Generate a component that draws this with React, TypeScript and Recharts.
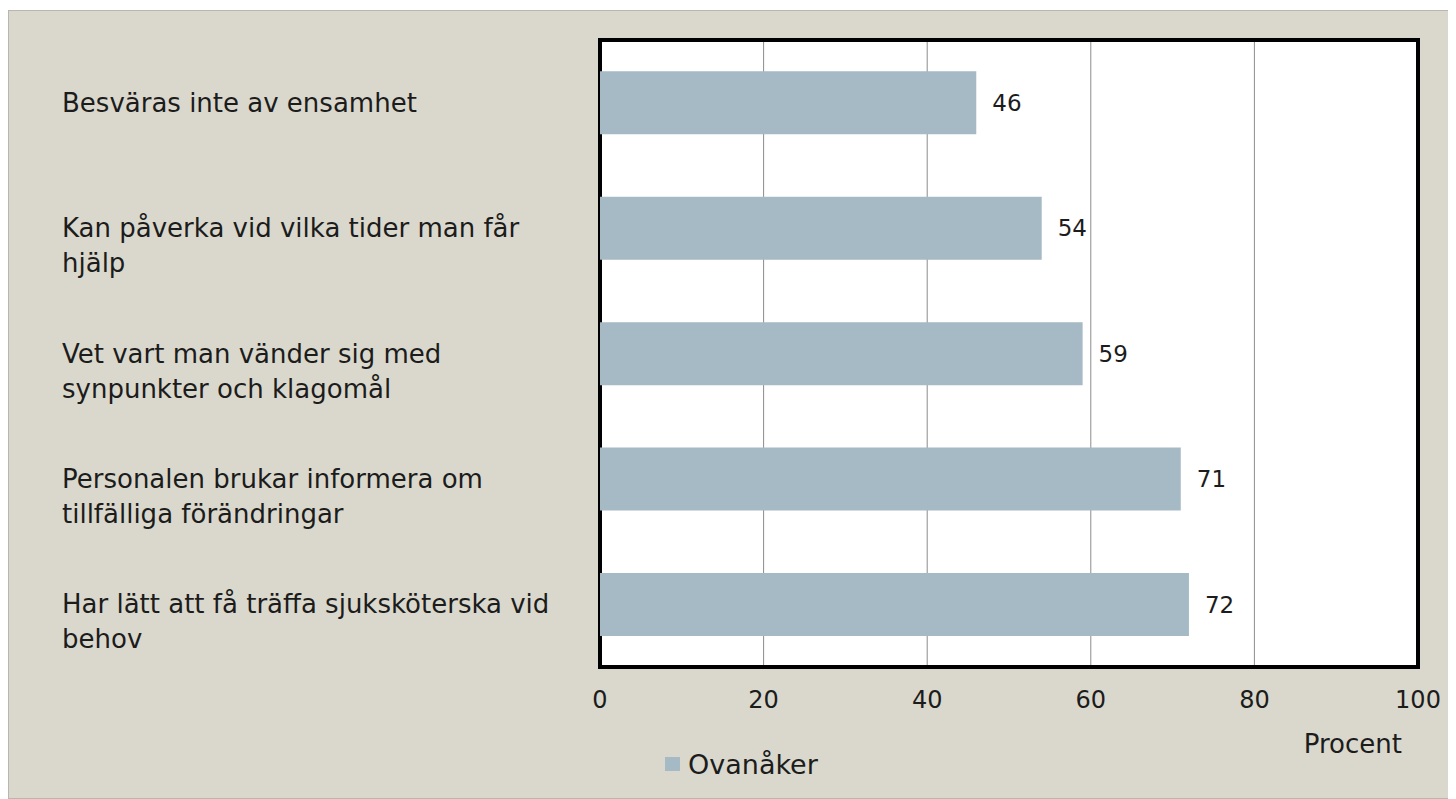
import React from 'react'
import {
  BarChart,
  Bar,
  XAxis,
  YAxis,
  CartesianGrid,
  ReferenceArea,
  LabelList,
  Legend,
} from 'recharts'

const categories = [
  'Besväras inte av ensamhet',
  'Kan påverka vid vilka tider man får hjälp',
  'Vet vart man vänder sig med synpunkter och klagomål',
  'Personalen brukar informera om tillfälliga förändringar',
  'Har lätt att få träffa sjuksköterska vid behov',
]

// how each category label wraps in the picture
const categoryLines = [
  ['Besväras inte av ensamhet'],
  ['Kan påverka vid vilka tider man får', 'hjälp'],
  ['Vet vart man vänder sig med', 'synpunkter och klagomål'],
  ['Personalen brukar informera om', 'tillfälliga förändringar'],
  ['Har lätt att få träffa sjuksköterska vid', 'behov'],
]

const ovanaker = [46, 54, 59, 71, 72]

const xTicks = [0, 20, 40, 60, 80, 100]

const seriesName = 'Ovanåker'
const axisTitle = 'Procent'

const FONT = '"DejaVu Sans", sans-serif'
const TEXT = '#1c1c1c'
const BAR = '#a6bac5'

const data = categories.map((name, i) => ({ name, value: ovanaker[i] }))

function CategoryTick(props: any) {
  const { y, payload } = props
  const idx = categories.indexOf(payload.value)
  const lines = categoryLines[idx] || [payload.value]
  return (
    <text x={53} y={y} fill={TEXT} fontSize={26} fontFamily={FONT} textAnchor="start">
      {lines.map((line, i) => (
        <tspan key={i} x={53} dy={i === 0 ? '0.35em' : 35}>
          {line}
        </tspan>
      ))}
    </text>
  )
}

function LegendContent() {
  return (
    <div
      style={{
        height: 30,
        display: 'flex',
        alignItems: 'center',
        paddingLeft: 656,
        fontFamily: FONT,
        fontSize: 27,
        color: TEXT,
      }}
    >
      <span style={{ width: 15, height: 14, background: BAR, marginRight: 8, display: 'inline-block' }} />
      {seriesName}
    </div>
  )
}

export default function App() {
  return (
    <div
      style={{
        marginTop: 2,
        width: 1448,
        height: 789,
        boxSizing: 'border-box',
        border: '1px solid #b8b6ad',
        background: '#dad8cc',
      }}
    >
      <BarChart
        width={1446}
        height={787}
        data={data}
        layout="vertical"
        barCategoryGap="25%"
        margin={{ top: 29, right: 37, left: 0, bottom: 19 }}
      >
        <CartesianGrid horizontal={false} stroke="#8c8c8c" fill="#ffffff" />
        <XAxis
          type="number"
          domain={[0, 100]}
          ticks={xTicks}
          axisLine={false}
          tickLine={false}
          tickSize={0}
          tickMargin={24}
          height={82}
          tick={{ fill: TEXT, fontSize: 24, fontFamily: FONT }}
          label={{
            value: axisTitle,
            position: 'insideBottomRight',
            offset: 0,
            dx: -16,
            dy: 4,
            fill: TEXT,
            fontSize: 26,
            fontFamily: FONT,
          }}
        />
        <YAxis
          type="category"
          dataKey="name"
          width={591}
          axisLine={false}
          tickLine={false}
          interval={0}
          tick={<CategoryTick />}
        />
        <Bar dataKey="value" name={seriesName} fill={BAR} isAnimationActive={false}>
          <LabelList
            dataKey="value"
            position="right"
            offset={16}
            fill={TEXT}
            fontSize={23}
            fontFamily={FONT}
          />
        </Bar>
        <ReferenceArea
          x1={0}
          x2={100}
          fill="none"
          stroke="#000000"
          strokeWidth={4}
          ifOverflow="visible"
        />
        <Legend verticalAlign="bottom" align="left" content={<LegendContent />} />
      </BarChart>
    </div>
  )
}
